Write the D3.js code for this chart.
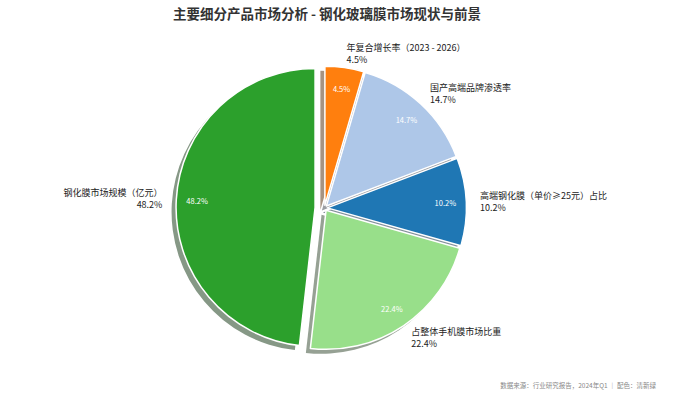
<!DOCTYPE html>
<html>
<head>
<meta charset="utf-8">
<script src="https://cdn.jsdelivr.net/npm/d3@7/dist/d3.min.js"></script>
<style>
  html, body { margin: 0; padding: 0; background: #fff; }
  svg { display: block; }
</style>
</head>
<body>
<svg id="chart" width="700" height="403"></svg>
<script>
const categories = ["年复合增长率（2023 - 2026）", "国产高端品牌渗透率", "高端钢化膜（单价≥25元）占比", "占整体手机膜市场比重", "钢化膜市场规模（亿元）"];
const values = [4.5, 14.7, 10.2, 22.4, 48.2];
const colors = ["#ff7f0e", "#aec7e8", "#1f77b4", "#98df8a", "#2ca02c"];
const titleText = "主要细分产品市场分析 - 钢化玻璃膜市场现状与前景";
const footerText = "数据来源：行业研究报告，2024年Q1 ｜ 配色：清新绿";

const svg = d3.select("#chart");
const cx = 324.5, cy = 208, R = 139;
const maxVal = d3.max(values);
const font = "'Noto Sans CJK SC', 'Noto Sans', sans-serif";

const data = categories.map((c, i) => ({ cat: c, value: values[i], color: colors[i] }));
const pie = d3.pie().sort(null).value(d => d.value);
const arcs = pie(data);
const arc = d3.arc().innerRadius(0).outerRadius(R);

function explodeOf(d) { return d.data.value === maxVal ? 0.068 : 0.02; }
function mid(d) { return (d.startAngle + d.endAngle) / 2; }
function offset(d) {
  const a = mid(d), e = explodeOf(d);
  return [cx + e * R * Math.sin(a), cy - e * R * Math.cos(a)];
}
function shadowColor(c) {
  const col = d3.rgb(c);
  return d3.rgb(0.15 * col.r + 127.5, 0.15 * col.g + 127.5, 0.15 * col.b + 127.5).formatHex();
}

const g = svg.append("g");

// shadows
g.selectAll("path.shadow").data(arcs).enter().append("path")
  .attr("class", "shadow")
  .attr("d", arc)
  .attr("fill", d => shadowColor(d.data.color))
  .attr("transform", d => { const [x, y] = offset(d); return `translate(${x - 4.5},${y + 4.5})`; });

// wedges
g.selectAll("path.wedge").data(arcs).enter().append("path")
  .attr("class", "wedge")
  .attr("d", arc)
  .attr("fill", d => d.data.color)
  .attr("stroke", "#fff")
  .attr("stroke-width", 1.5)
  .attr("stroke-linejoin", "round")
  .attr("transform", d => { const [x, y] = offset(d); return `translate(${x},${y})`; });

// percent labels
g.selectAll("text.pct").data(arcs).enter().append("text")
  .attr("class", "pct")
  .attr("x", d => offset(d)[0] + 0.85 * R * Math.sin(mid(d)))
  .attr("y", d => offset(d)[1] - 0.85 * R * Math.cos(mid(d)))
  .attr("text-anchor", "middle")
  .attr("dominant-baseline", "central")
  .attr("font-family", font)
  .attr("font-size", 7.5)
  .attr("fill", "#fff")
  .text(d => d3.format(".1f")(d.data.value) + "%");

// outer labels
const lab = g.selectAll("text.lab").data(arcs).enter().append("text")
  .attr("class", "lab")
  .attr("font-family", font)
  .attr("font-size", 9)
  .attr("fill", "#222")
  .attr("text-anchor", d => Math.sin(mid(d)) >= 0 ? "start" : "end");
lab.each(function(d) {
  const a = mid(d);
  const x = offset(d)[0] + 1.1 * R * Math.sin(a);
  const y = offset(d)[1] - 1.1 * R * Math.cos(a);
  const t = d3.select(this);
  t.append("tspan").attr("x", x).attr("y", y - 6).attr("dominant-baseline", "central").text(d.data.cat);
  t.append("tspan").attr("x", x).attr("y", y + 6).attr("dominant-baseline", "central").text(d3.format(".1f")(d.data.value) + "%");
});

// title
svg.append("text")
  .attr("x", 327).attr("y", 13)
  .attr("text-anchor", "middle")
  .attr("dominant-baseline", "central")
  .attr("font-family", font)
  .attr("font-size", 13.5)
  .attr("font-weight", "bold")
  .attr("fill", "#333")
  .style("white-space", "pre")
  .text(titleText);

// footer
svg.append("text")
  .attr("x", 656).attr("y", 385)
  .attr("text-anchor", "end")
  .attr("dominant-baseline", "central")
  .attr("font-family", font)
  .attr("font-size", 6.5)
  .attr("fill", "#888")
  .text(footerText);
</script>
</body>
</html>
